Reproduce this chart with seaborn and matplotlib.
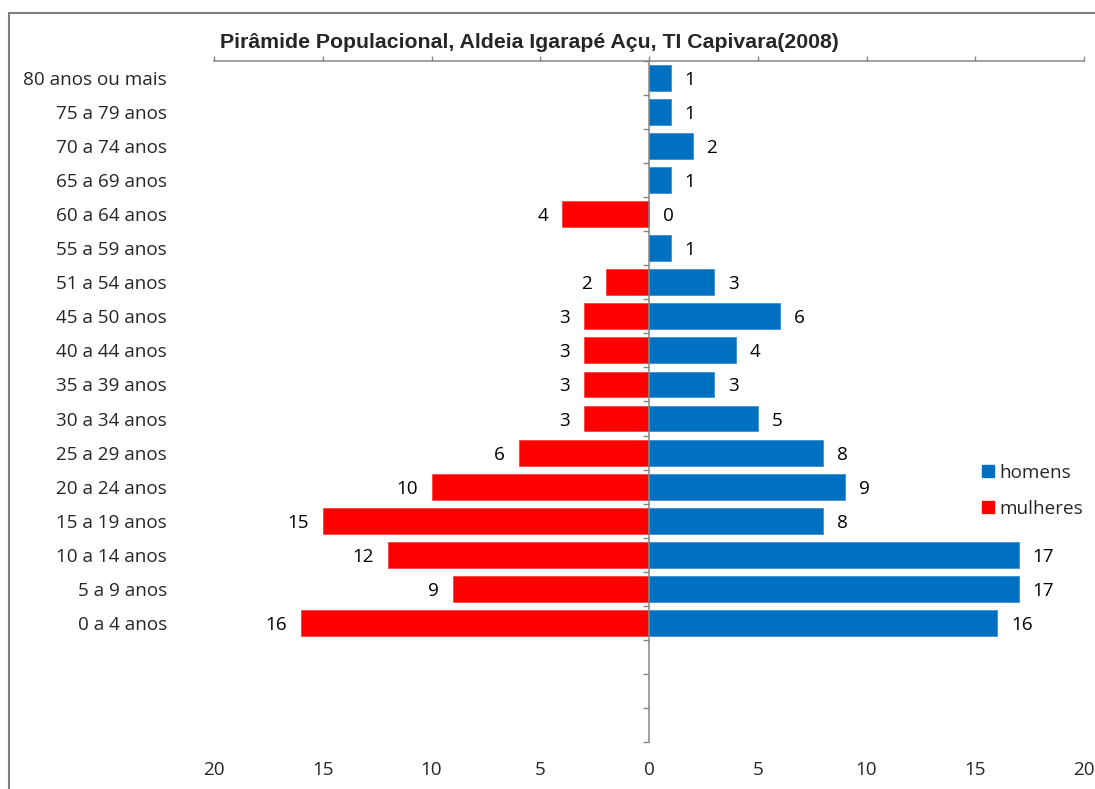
import numpy as np
import pandas as pd
import seaborn as sns
import matplotlib.pyplot as plt
from matplotlib.lines import Line2D
from matplotlib.patches import Rectangle
from matplotlib.ticker import FixedLocator
import matplotlib.transforms as mtransforms

# age groups, top to bottom
faixas = ["80 anos ou mais", "75 a 79 anos", "70 a 74 anos", "65 a 69 anos",
          "60 a 64 anos", "55 a 59 anos", "51 a 54 anos", "45 a 50 anos",
          "40 a 44 anos", "35 a 39 anos", "30 a 34 anos", "25 a 29 anos",
          "20 a 24 anos", "15 a 19 anos", "10 a 14 anos", "5 a 9 anos", "0 a 4 anos"]
homens = [1, 1, 2, 1, 0, 1, 3, 6, 4, 3, 5, 8, 9, 8, 17, 17, 16]
mulheres = [np.nan, np.nan, np.nan, np.nan, 4, np.nan, 2, 3, 3, 3, 3, 6, 10, 15, 12, 9, 16]
vazios = ["", " ", "  "]  # empty slots below the last group
xticks = [-20, -15, -10, -5, 0, 5, 10, 15, 20]

titulo = "Pirâmide Populacional, Aldeia Igarapé Açu, TI Capivara(2008)"
azul = "#0070C0"
vermelho = "#FF0000"
cinza = "#868686"

sns.set_style("white")
plt.rcParams["font.family"] = ["Open Sans", "DejaVu Sans"]
fs = 13.6

df_h = pd.DataFrame({"faixa": faixas, "valor": homens})
df_m = pd.DataFrame({"faixa": faixas, "valor": [-v for v in mulheres]}).dropna()
ordem = faixas + vazios

W, H = 1095, 789
fig = plt.figure(figsize=(W / 100, H / 100), dpi=100)
ax = fig.add_axes([214 / W, 1 - 742 / H, 870 / W, 681 / H])

sns.barplot(data=df_h, x="valor", y="faixa", order=ordem, color=azul,
            saturation=1, width=0.76, errorbar=None, edgecolor="#3d8fd6",
            linewidth=0.6, ax=ax)
sns.barplot(data=df_m, x="valor", y="faixa", order=ordem, color=vermelho,
            saturation=1, width=0.76, errorbar=None, edgecolor="#ff4040",
            linewidth=0.6, ax=ax)

for cont in ax.containers:
    labs = [f"{abs(b.get_width()):.0f}" for b in cont]
    txts = ax.bar_label(cont, labels=labs, padding=10, fontsize=fs, color="black")
    for t in txts:
        t.set_va("center_baseline")

ax.set_xlim(-20, 20)
ax.set_ylim(len(ordem) - 0.5, -0.5)
ax.set_xticks(xticks)
ax.set_xticklabels([str(abs(t)) for t in xticks], fontsize=fs)
ax.set_xlabel("")
ax.set_ylabel("")

# spines: top line with ticks, vertical axis at zero
for s in ["bottom", "right"]:
    ax.spines[s].set_visible(False)
ax.spines["top"].set_color(cinza)
ax.spines["top"].set_linewidth(1.1)
ax.spines["left"].set_position(("data", 0))
ax.spines["left"].set_color(cinza)
ax.spines["left"].set_linewidth(1.1)

ax.tick_params(axis="x", top=True, bottom=False, labeltop=False, labelbottom=True,
               direction="out", length=3.8, width=1, color=cinza, pad=10)
ax.set_yticks([])
ax.yaxis.set_minor_locator(FixedLocator(np.arange(-0.5, len(ordem), 1.0)))
ax.tick_params(axis="y", which="minor", left=True, direction="out", length=4.5,
               width=1, color=cinza)

# category labels at far left
trans = mtransforms.blended_transform_factory(ax.transAxes, ax.transData)
for i, f in enumerate(faixas):
    ax.text(-47 / 870, i, f, transform=trans, ha="right", va="center_baseline",
            fontsize=fs)

fig.text(529 / W, 1 - 42 / H, titulo, ha="center", va="center", fontsize=15.3,
         fontweight="bold", family=["Liberation Sans", "DejaVu Sans"])

handles = [Line2D([], [], marker="s", linestyle="", color=azul, markersize=8),
           Line2D([], [], marker="s", linestyle="", color=vermelho, markersize=8)]
fig.legend(handles, ["homens", "mulheres"], loc="center left",
           bbox_to_anchor=(960 / W, 1 - 491 / H), frameon=False, fontsize=fs,
           handletextpad=0.0, labelspacing=0.95, handlelength=1.2)

# outer chart frame
fig.add_artist(Rectangle((9 / W, -0.1), 2, 1 - 13 / H + 0.1, transform=fig.transFigure,
                         fill=False, edgecolor="#7f7f7f", linewidth=1.5))

fig.savefig("out.png", dpi=100)
